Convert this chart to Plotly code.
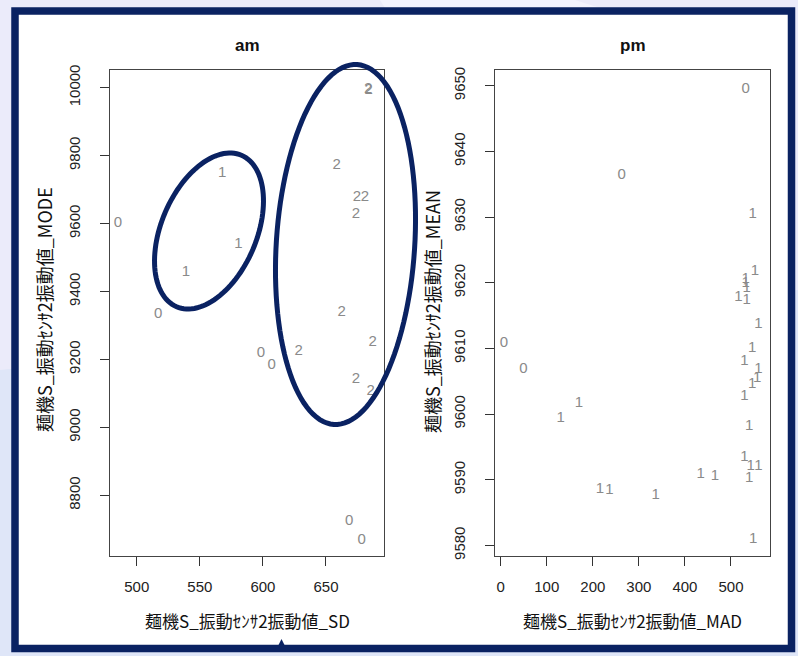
import math
import plotly.graph_objects as go

W, H = 798, 656

# ---------------- data ----------------
am_sd = [485.1, 567.8, 580.5, 539.0, 683.5, 683.8, 658.4, 674.5, 680.9, 673.7,
         662.4, 517.0, 687.0, 598.4, 606.9, 628.3, 673.7, 685.4, 668.4, 678.2]
am_mode = [9601.7, 9748, 9540, 9456, 9995, 9993, 9771, 9676, 9676, 9628,
           9339, 9333, 9250, 9218, 9184, 9225, 9142, 9105, 8725, 8668]
am_cluster = ["0", "1", "1", "1", "2", "2", "2", "2", "2", "2",
              "2", "0", "2", "0", "0", "2", "2", "2", "0", "0"]

pm_mad = [531.9, 262.7, 547.0, 552.0, 531.9, 531.9, 534.0, 515.9, 534.0, 559.3,
          7.2, 546.2, 528.9, 559.3, 557.1, 546.2, 528.9, 49.1, 170.0, 130.3,
          539.7, 528.9, 542.8, 559.3, 539.7, 434.2, 465.3, 215.6, 235.8, 336.5,
          548.4]
pm_mean = [9649.5, 9636.3, 9630.4, 9621.7, 9620.5, 9619.9, 9619.1, 9617.8, 9617.3, 9613.7,
           9610.8, 9610.0, 9608.0, 9606.9, 9605.5, 9604.5, 9602.7, 9606.9, 9601.7, 9599.4,
           9598.2, 9593.5, 9592.0, 9592.0, 9590.3, 9590.8, 9590.5, 9588.6, 9588.4, 9587.6,
           9580.9]
pm_cluster = ["0", "0", "1", "1", "1", "1", "1", "1", "1", "1",
              "0", "1", "1", "1", "1", "1", "1", "0", "1", "1",
              "1", "1", "1", "1", "1", "1", "1", "1", "1", "1",
              "1"]

am_xticks = [500, 550, 600, 650]
am_yticks = [8800, 9000, 9200, 9400, 9600, 9800, 10000]
pm_xticks = [0, 100, 200, 300, 400, 500]
pm_yticks = [9580, 9590, 9600, 9610, 9620, 9630, 9640, 9650]

panel_titles = ["am", "pm"]
x_titles = ["麺機S_振動ｾﾝｻ2振動値_SD", "麺機S_振動ｾﾝｻ2振動値_MAD"]
y_titles = ["麺機S_振動ｾﾝｻ2振動値_MODE", "麺機S_振動ｾﾝｻ2振動値_MEAN"]

# ---------------- styling ----------------
NAVY = "#0a2262"
PT_COL = "#8a8a8a"
TXT = "#222222"
NUM_FONT = "Liberation Sans, Arial, sans-serif"
JP_FONT = "Noto Sans CJK JP, sans-serif"

def px(x):
    return x / W

def py(y):
    return 1 - y / H

# plot boxes in pixels (left, top, right, bottom)
boxL = (110, 70, 384, 556)
boxR = (495, 70, 770, 556)

fig = go.Figure()
fig.add_trace(go.Scatter(x=am_sd, y=am_mode, text=am_cluster, mode="text",
                         textposition="middle center",
                         textfont=dict(family=NUM_FONT, size=15, color=PT_COL),
                         xaxis="x", yaxis="y", showlegend=False, hoverinfo="skip"))
fig.add_trace(go.Scatter(x=pm_mad, y=pm_mean, text=pm_cluster, mode="text",
                         textposition="middle center",
                         textfont=dict(family=NUM_FONT, size=15, color=PT_COL),
                         xaxis="x2", yaxis="y2", showlegend=False, hoverinfo="skip"))

axis_common = dict(showgrid=False, zeroline=False, showline=True, mirror=True,
                   linecolor="#444444", linewidth=1, ticks="outside", ticklen=9,
                   tickcolor="#333333", tickwidth=1, automargin=False,
                   tickfont=dict(family=NUM_FONT, size=15, color=TXT))

fig.update_layout(
    width=W, height=H,
    margin=dict(l=0, r=0, t=0, b=0, pad=0),
    paper_bgcolor="#ebebfa",
    plot_bgcolor="rgba(0,0,0,0)",
    xaxis=dict(domain=[px(boxL[0]), px(boxL[2])], range=[478.8, 696.0],
               tickvals=am_xticks, ticktext=[str(v) for v in am_xticks],
               ticklabelstandoff=8, anchor="y", **axis_common),
    yaxis=dict(domain=[py(boxL[3]), py(boxL[1])], range=[8621.4, 10052.0],
               tickvals=am_yticks, ticktext=[str(v) for v in am_yticks],
               tickangle=-90, ticklabelstandoff=14, anchor="x", **axis_common),
    xaxis2=dict(domain=[px(boxR[0]), px(boxR[2])], range=[-12.4, 584.7],
                tickvals=pm_xticks, ticktext=[str(v) for v in pm_xticks],
                ticklabelstandoff=8, anchor="y2", **axis_common),
    yaxis2=dict(domain=[py(boxR[3]), py(boxR[1])], range=[9578.4, 9652.4],
                tickvals=pm_yticks, ticktext=[str(v) for v in pm_yticks],
                tickangle=-90, ticklabelstandoff=14, anchor="x2", **axis_common),
)

shapes = []
# background light-blue lower region
shapes.append(dict(type="path", xref="paper", yref="paper", layer="below",
                   path=f"M 0 {py(370)} L 1 {py(290)} L 1 0 L 0 0 Z",
                   fillcolor="#dfe6f8", line=dict(width=0)))
shapes.append(dict(type="path", xref="paper", yref="paper", layer="below",
                   path=f"M {px(380)} 1 L {px(575)} 1 L {px(600)} {py(8)} L {px(385)} {py(8)} Z",
                   fillcolor="#f3f3fe", line=dict(width=0)))
# frame
shapes.append(dict(type="rect", xref="paper", yref="paper", layer="below",
                   x0=px(15), x1=px(791.5), y0=py(648.5), y1=py(11),
                   fillcolor="white", line=dict(color=NAVY, width=7.5)))
# small marker at bottom of frame
shapes.append(dict(type="path", xref="paper", yref="paper", layer="above",
                   path=f"M {px(278.5)} {py(645)} L {px(281.5)} {py(639)} L {px(284.5)} {py(645)} Z",
                   fillcolor=NAVY, line=dict(width=0)))

def ellipse_path(cx, cy, a, b, phi_deg, n=120):
    phi = math.radians(phi_deg)
    pts = []
    for i in range(n):
        t = 2 * math.pi * i / n
        ex = a * math.cos(t)
        ey = b * math.sin(t)
        x = cx + ex * math.cos(phi) - ey * math.sin(phi)
        y = cy - (ex * math.sin(phi) + ey * math.cos(phi))
        pts.append((px(x), py(y)))
    d = "M " + " L ".join(f"{x:.5f} {y:.5f}" for x, y in pts) + " Z"
    return d

shapes.append(dict(type="path", xref="paper", yref="paper", layer="above",
                   path=ellipse_path(209, 231, 82.4, 47.6, 66.8),
                   line=dict(color=NAVY, width=5)))
shapes.append(dict(type="path", xref="paper", yref="paper", layer="above",
                   path=ellipse_path(345.5, 244.5, 180.3, 69.2, 86.3),
                   line=dict(color=NAVY, width=5)))
fig.update_layout(shapes=shapes)

ann = []
for i, box in enumerate([boxL, boxR]):
    cx = (box[0] + box[2]) / 2
    ann.append(dict(x=px(cx), y=py(45), xref="paper", yref="paper", text=f"<b>{panel_titles[i]}</b>",
                    showarrow=False, xanchor="center", yanchor="middle",
                    font=dict(family=NUM_FONT, size=17, color="#111111")))
    ann.append(dict(x=px(cx), y=py(620), xref="paper", yref="paper", text=x_titles[i],
                    showarrow=False, xanchor="center", yanchor="middle",
                    font=dict(family=JP_FONT, size=17, color="#111111")))
ann.append(dict(x=px(44), y=py(310), xref="paper", yref="paper", text=y_titles[0],
                showarrow=False, textangle=-90, xanchor="center", yanchor="middle",
                font=dict(family=JP_FONT, size=18, color="#111111")))
ann.append(dict(x=px(432), y=py(312), xref="paper", yref="paper", text=y_titles[1],
                showarrow=False, textangle=-90, xanchor="center", yanchor="middle",
                font=dict(family=JP_FONT, size=18, color="#111111")))
fig.update_layout(annotations=ann)

fig.write_html("out.html",
               config={"displayModeBar": False},
               post_script="document.body.style.margin='0px';document.body.style.overflow='hidden';")
